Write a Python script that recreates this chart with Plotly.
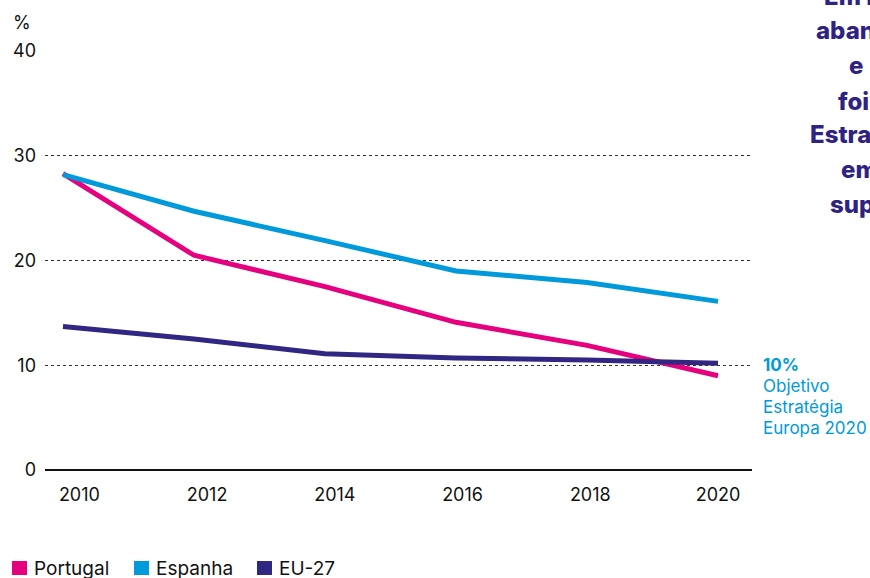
import plotly.graph_objects as go

# Early leavers from education and training (%)
years = [2010, 2012, 2014, 2016, 2018, 2020]
portugal = [28.3, 20.5, 17.5, 14.1, 11.9, 9.0]
espanha = [28.2, 24.7, 21.9, 19.0, 17.9, 16.1]
eu27 = [13.7, 12.5, 11.1, 10.7, 10.5, 10.2]

series_names = ["Portugal", "Espanha", "EU-27"]
series_colors = ["#E5007D", "#0099DA", "#312783"]

tick_positions = [2010.25, 2012.2, 2014.15, 2016.1, 2018.05, 2020.0]
tick_labels = ["2010", "2012", "2014", "2016", "2018", "2020"]
y_ticks = [0, 10, 20, 30, 40]

target_lines = ["<b>10%</b>", "Objetivo", "Estratégia", "Europa 2020"]
side_lines = ["Em Portugal, a taxa de", "abandono escolar", "e\u00a0 formação precoce", "foi de 8,9% face à meta da",
              "Estratégia Europa 2020", "em 2020, ficando", "superior à média da UE"]

W, H = 870, 578
PL, PR, PT, PB = 45, 752, 51, 470
FONT = "Inter"


def px_x(x):
    return (x - PL) / (PR - PL)


def px_y(y):
    return (PB - y) / (PB - PT)


fig = go.Figure()
for name, vals, col in zip(series_names, [portugal, espanha, eu27], series_colors):
    fig.add_trace(go.Scatter(x=years, y=vals, mode="lines", name=name,
                             line=dict(color=col, width=5), showlegend=False))

annotations = [
    dict(text="%", x=px_x(11), y=px_y(23), xref="paper", yref="paper",
         xanchor="left", yanchor="middle", showarrow=False,
         font=dict(family=FONT, size=18, color="#111111")),
]

# target note next to the 10% line
for i, t in enumerate(target_lines):
    annotations.append(dict(text=t, x=px_x(761), y=px_y(365 + 21 * i), xref="paper", yref="paper",
                            xanchor="left", yanchor="middle", showarrow=False,
                            font=dict(family=FONT, size=17, color="#0099DA")))

# side text running off the right edge
side_x = [822, 814, 847, 836, 808, 839, 828]
side_base = [6, 40, 74, 110, 143, 178, 213]
for t, sx, sb in zip(side_lines, side_x, side_base):
    annotations.append(dict(text=t, x=px_x(sx), y=px_y(sb - 9), xref="paper", yref="paper",
                            xanchor="left", yanchor="middle", showarrow=False,
                            font=dict(family=FONT, size=24, color="#2E2383", weight=800)))

# legend
shapes = []
leg_sq = [12, 134, 257]
leg_tx = [33, 155, 278]
for name, col, sq, tx in zip(series_names, series_colors, leg_sq, leg_tx):
    shapes.append(dict(type="rect", xref="paper", yref="paper",
                       x0=px_x(sq), x1=px_x(sq + 15), y0=px_y(575), y1=px_y(561),
                       fillcolor=col, line=dict(width=0)))
    annotations.append(dict(text=name, x=px_x(tx - 1), y=px_y(568), xref="paper", yref="paper",
                            xanchor="left", yanchor="middle", showarrow=False,
                            font=dict(family=FONT, size=19, color="#111111")))

x0 = 2010 + (PL - 63) / 65.5
x1 = 2020 + (PR - 718) / 65.5

fig.update_layout(
    width=W, height=H,
    margin=dict(l=PL, r=W - PR, t=PT, b=H - PB),
    paper_bgcolor="white", plot_bgcolor="white",
    font=dict(family=FONT, size=18, color="#111111"),
    xaxis=dict(range=[x0, x1], tickvals=tick_positions, ticktext=tick_labels,
               showgrid=False, zeroline=False, showline=False, ticks="",
               ticklabelstandoff=12, tickfont=dict(size=18, color="#111111")),
    yaxis=dict(range=[0, 40], tickvals=y_ticks, showgrid=True, gridcolor="#333333",
               griddash="dot", gridwidth=1, zeroline=True, zerolinecolor="#111111",
               zerolinewidth=2, showline=False, ticks="", ticklabelstandoff=8,
               tickfont=dict(size=18, color="#111111")),
    annotations=annotations,
    shapes=shapes,
    showlegend=False,
)

fig.write_html("out.html")
